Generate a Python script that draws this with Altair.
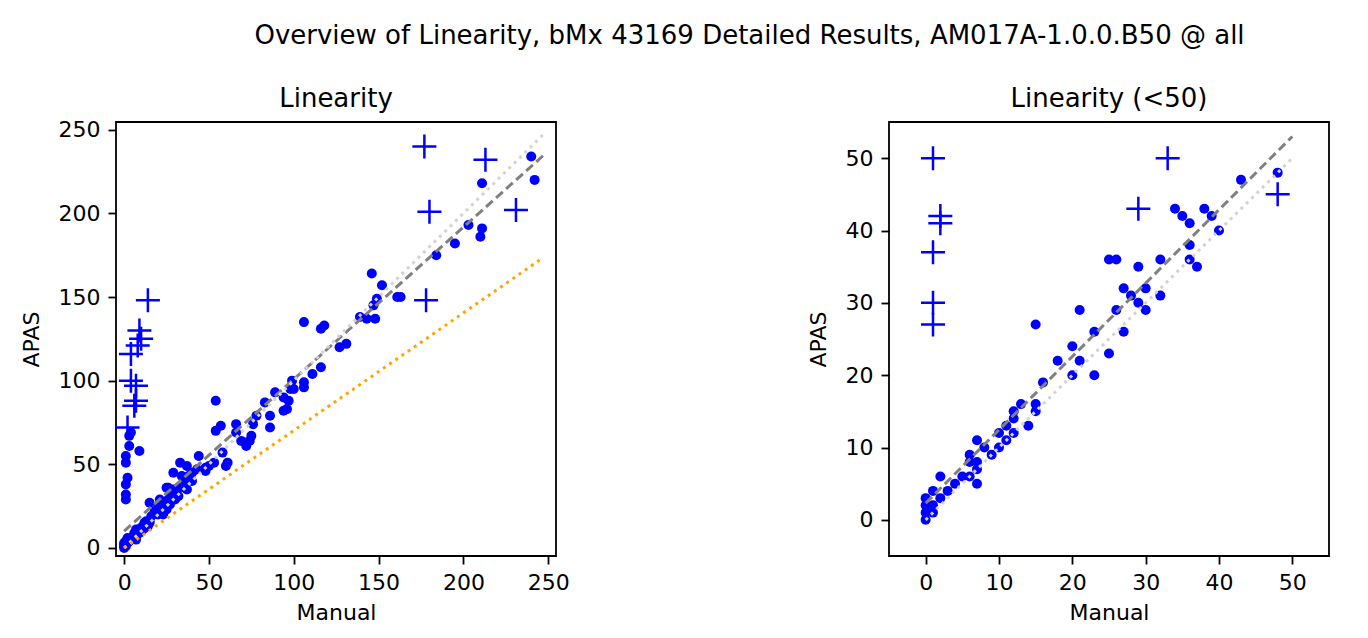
import altair as alt
import pandas as pd

FONT = "DejaVu Sans"

# ---------------- data: right panel (<50) ----------------
right_circ_x = [0, 0, 0, 0, 1, 1, 1, 2, 2, 3, 4, 5, 6, 7, 7, 6, 7, 6, 8, 9, 10, 7, 11, 10, 12, 11, 14, 12, 12, 13,
                15, 15, 16, 20, 23, 18, 21, 25, 20, 23, 27, 15, 21, 26, 30, 29, 28, 32, 27, 30, 29, 37, 25, 26, 32,
                36, 36, 40, 36, 35, 39, 34, 38, 43, 48]
right_circ_y = [0, 1, 2, 3, 1, 2, 4, 3, 6, 4, 5, 6, 6, 5, 7, 8, 8, 9, 10, 9, 10, 11, 11, 12, 12, 13, 13, 14, 15, 16,
                15, 16, 19, 20, 20, 22, 22, 23, 24, 26, 26, 27, 29, 29, 29, 30, 31, 31, 32, 32, 35, 35, 36, 36, 36,
                36, 38, 40, 41, 42, 42, 43, 43, 47, 48]
right_plus_x = [1, 2, 2, 1, 1, 1, 29, 33, 48]
right_plus_y = [50, 42, 41, 37, 30, 27, 43, 50, 45]

# ---------------- data: left panel (all) ----------------
left_extra_x = [1, 1, 1, 2, 1, 1, 3, 9, 3, 4, 29, 33, 48, 37, 40, 44, 50, 60,
                53, 58, 61, 54, 54, 57, 66, 66, 69, 74, 72, 75, 76, 78, 86, 86, 83, 89, 94, 96, 94, 97, 98, 100, 99,
                106, 106, 111, 116, 106, 116, 118, 127, 131, 139, 143, 148, 147, 149, 152, 146, 161, 163, 184, 195,
                203, 210, 211, 211, 240, 242]
left_extra_y = [29, 32, 38, 42, 51, 55, 61, 58, 67, 69, 45, 51, 46, 49, 45, 55, 49, 49,
                51, 57, 51, 88, 70, 73, 74, 69, 64, 64, 61, 67, 74, 79, 72, 79, 87, 93, 90, 83, 82, 88, 95, 95, 100,
                96, 99, 104, 108, 135, 131, 133, 120, 122, 138, 137, 137, 145, 149, 157, 164, 150, 150, 175, 182,
                193, 186, 191, 218, 234, 220]
left_circ_x = right_circ_x + left_extra_x
left_circ_y = right_circ_y + left_extra_y
left_plus_x = [177, 213, 180, 231, 178, 14, 9, 10, 8, 4, 4, 7, 7, 6, 2]
left_plus_y = [240, 232, 201, 202, 148, 148, 130, 125, 121, 116, 100, 97, 88, 85, 72]

# reference / fit lines (endpoints)
left_line_x = [0, 247]
left_fit_y = [10, 234.5]
left_ident_y = [0, 247]
left_low_y = [0, 173.5]
right_line_x = [0, 50]
right_fit_y = [2.3, 53]
right_ident_y = [0, 50]

PLUS = "M-1,0L1,0M0,-1L0,1"


def panel(cx, cy, px, py, lx, lines, dom, ticks, title, toff):
    xs = alt.Scale(domain=dom, nice=False, zero=False)
    ys = alt.Scale(domain=dom, nice=False, zero=False)
    xa = alt.Axis(values=ticks, title="Manual", titlePadding=9)
    ya = alt.Axis(values=ticks, title="APAS", titlePadding=15)
    circ = alt.Chart(pd.DataFrame({"x": cx, "y": cy})).mark_circle(
        color="#0000ff", opacity=1, size=100
    ).encode(x=alt.X("x:Q", scale=xs, axis=xa), y=alt.Y("y:Q", scale=ys, axis=ya))
    plus = alt.Chart(pd.DataFrame({"x": px, "y": py})).mark_point(
        shape=PLUS, color="#0000ff", filled=False, size=576, strokeWidth=2.5, opacity=1
    ).encode(x="x:Q", y="y:Q")
    layers = [circ, plus]
    for ly, col, dash in lines:
        layers.append(
            alt.Chart(pd.DataFrame({"x": lx, "y": ly})).mark_line(
                color=col, strokeWidth=3, strokeDash=dash, clip=True
            ).encode(x="x:Q", y="y:Q")
        )
    return alt.layer(*layers).properties(
        width=440, height=434,
        title=alt.TitleParams(title, fontSize=26, font=FONT, fontWeight="normal", offset=toff, frame="group"),
    )


left = panel(left_circ_x, left_circ_y, left_plus_x, left_plus_y, left_line_x,
             [(left_fit_y, "#808080", [9, 4.5]), (left_ident_y, "#d3d3d3", [3, 4.5]),
              (left_low_y, "#ffa500", [3, 4.5])],
             [-4.8, 254.6], [0, 50, 100, 150, 200, 250], "Linearity", 7)
right = panel(right_circ_x, right_circ_y, right_plus_x, right_plus_y, right_line_x,
              [(right_fit_y, "#808080", [9, 4.5]), (right_ident_y, "#d3d3d3", [3, 4.5])],
              [-5, 55], [0, 10, 20, 30, 40, 50], "Linearity (<50)", 10)

chart = alt.hconcat(left, right, spacing=235).properties(
    title=alt.TitleParams(
        "Overview of Linearity, bMx 43169 Detailed Results, AM017A-1.0.0.B50 @ all",
        fontSize=26, font=FONT, fontWeight="normal", anchor="middle", dx=75, offset=36,
    ),
    padding={"left": 11, "top": 14, "right": 10, "bottom": 10},
    background="white",
).configure_view(stroke="black", strokeWidth=1.8).configure_axis(
    grid=False, domain=False, ticks=True, tickColor="black", tickSize=8, tickWidth=1.8,
    labelColor="black", labelFont=FONT, labelFontSize=22, titleFont=FONT, titleFontSize=22,
    titleFontWeight="normal", titleColor="black", labelPadding=8,
).configure_title(color="black")

chart.save("out.html", embed_options={"renderer": "svg", "actions": False})
